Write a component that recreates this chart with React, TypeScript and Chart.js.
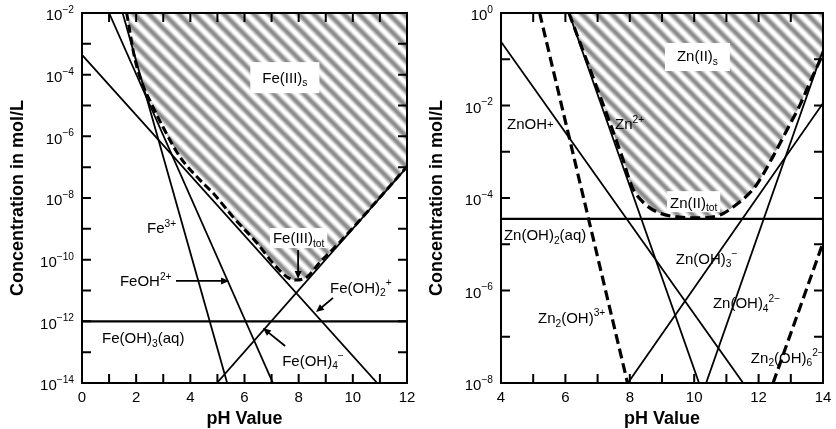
import React, { useEffect, useRef } from 'react';
import { Chart, registerables } from 'chart.js';

Chart.register(...registerables);

const FONT = '"Liberation Sans", Arial, Helvetica, sans-serif';

// ---------------- Fe(III) panel data (pH, log10 concentration) ----------------
const fePhTicks = [0, 2, 4, 6, 8, 10, 12];
const feLogTicks = [-2, -4, -6, -8, -10, -12, -14];
const fe3pH = [1.5, 5.36];
const fe3Log = [-2, -14];
const feOHpH = [1.0, 7.05];
const feOHLog = [-2, -14];
const feOH2pH = [0, 10.9];
const feOH2Log = [-3.36, -14];
const feOH3pH = [0, 12];
const feOH3Log = [-12, -12];
const feOH4pH = [4.98, 12];
const feOH4Log = [-14, -7.0];
const feTotPH = [1.65, 1.96, 2.25, 2.55, 2.95, 3.62, 4.36, 4.84, 5.58, 6.46, 7.05, 7.57, 7.87, 8.31, 8.79, 9.5, 12];
const feTotLog = [-2, -3.52, -4.34, -4.92, -5.63, -6.67, -7.42, -7.84, -8.62, -9.46, -10.11, -10.56, -10.66, -10.56, -10.08, -9.45, -6.98];

// ---------------- Zn(II) panel data ----------------
const znPhTicks = [4, 6, 8, 10, 12, 14];
const znLogTicks = [0, -2, -4, -6, -8];
const zn2pH = [6.11, 10.15];
const zn2Log = [0, -8];
const znOHpH = [4, 11.52];
const znOHLog = [-0.62, -8];
const znOH2pH = [4, 14];
const znOH2Log = [-4.45, -4.45];
const znOH3pH = [7.94, 14];
const znOH3Log = [-8, -1.95];
const znOH4pH = [10.37, 14];
const znOH4Log = [-8, -0.8];
const zn2OH3pH = [5.2, 7.93];
const zn2OH3Log = [0, -8];
const zn2OH6pH = [12.45, 14];
const zn2OH6Log = [-8, -4.97];
const znTotPH = [6.11, 7.76, 8.07, 8.41, 8.84, 9.47, 10.18, 10.8, 11.2, 11.64, 11.95, 12.45, 12.91, 13.29, 13.6, 14];
const znTotLog = [0, -3.11, -3.76, -4.09, -4.3, -4.41, -4.43, -4.37, -4.2, -3.95, -3.7, -3.1, -2.49, -1.98, -1.49, -0.88];

type Part = [string, number]; // mode: 0 normal, 1 sup, -1 sub, 2 small mid
interface Label { ph: number; lg: number; parts: Part[]; align?: 'left' | 'center'; box?: [number, number, number] }
interface Arrow { from: [number, number]; to: [number, number] }
interface Series { ph: number[]; lg: number[]; dash?: number[]; fill?: boolean; width?: number }
interface PanelCfg {
  xMin: number; xMax: number; yMinExp: number; yMaxExp: number;
  xTicks: number[]; yTicks: number[];
  padding: { left: number; right: number; top: number; bottom: number };
  series: Series[]; labels: Label[]; arrows: Arrow[];
}

const FE_PANEL: PanelCfg = {
  xMin: 0, xMax: 12, yMinExp: -14, yMaxExp: -2,
  xTicks: fePhTicks, yTicks: feLogTicks,
  padding: { left: 82, right: 11, top: 13, bottom: 46 },
  series: [
    { ph: feTotPH, lg: feTotLog, dash: [8, 4], fill: true, width: 3 },
    { ph: fe3pH, lg: fe3Log },
    { ph: feOHpH, lg: feOHLog },
    { ph: feOH2pH, lg: feOH2Log },
    { ph: feOH3pH, lg: feOH3Log, width: 2.2 },
    { ph: feOH4pH, lg: feOH4Log },
  ],
  labels: [
    { ph: 7.49, lg: -4.08, parts: [['Fe(III)', 0], ['s', -1]], align: 'center', box: [12, 15, 16] },
    { ph: 2.4, lg: -8.97, parts: [['Fe', 0], ['3+', 1]] },
    { ph: 1.4, lg: -10.69, parts: [['FeOH', 0], ['2+', 1]] },
    { ph: 7.05, lg: -9.3, parts: [['Fe(III)', 0], ['tot', -1]], box: [3, 10, 10] },
    { ph: 9.16, lg: -10.89, parts: [['Fe(OH)', 0], ['2', -1], ['+', 1]] },
    { ph: 0.74, lg: -12.54, parts: [['Fe(OH)', 0], ['3', -1], ['(aq)', 0]] },
    { ph: 7.39, lg: -13.26, parts: [['Fe(OH)', 0], ['4', -1], ['\u2212', 1]] },
  ],
  arrows: [
    { from: [3.47, -10.69], to: [5.43, -10.69] },
    { from: [7.98, -9.69], to: [7.98, -10.63] },
    { from: [9.27, -11.24], to: [8.64, -11.7] },
    { from: [7.5, -12.8], to: [6.68, -12.22] },
  ],
};

const ZN_PANEL: PanelCfg = {
  xMin: 4, xMax: 14, yMinExp: -8, yMaxExp: 0,
  xTicks: znPhTicks, yTicks: znLogTicks,
  padding: { left: 83, right: 13, top: 13, bottom: 46 },
  series: [
    { ph: znTotPH, lg: znTotLog, dash: [10, 5], fill: true, width: 3.2 },
    { ph: zn2OH3pH, lg: zn2OH3Log, dash: [10, 5], width: 3.2 },
    { ph: zn2OH6pH, lg: zn2OH6Log, dash: [10, 5], width: 3.2 },
    { ph: zn2pH, lg: zn2Log },
    { ph: znOHpH, lg: znOHLog },
    { ph: znOH2pH, lg: znOH2Log, width: 2.2 },
    { ph: znOH3pH, lg: znOH3Log },
    { ph: znOH4pH, lg: znOH4Log },
  ],
  labels: [
    { ph: 10.1, lg: -0.93, parts: [['Zn(II)', 0], ['s', -1]], align: 'center', box: [12, 13, 15] },
    { ph: 4.19, lg: -2.4, parts: [['ZnOH', 0], ['+', 2]] },
    { ph: 7.54, lg: -2.4, parts: [['Zn', 0], ['2+', 1]] },
    { ph: 9.25, lg: -4.09, parts: [['Zn(II)', 0], ['tot', -1]], box: [3, 11, 10] },
    { ph: 4.09, lg: -4.8, parts: [['Zn(OH)', 0], ['2', -1], ['(aq)', 0]] },
    { ph: 9.43, lg: -5.3, parts: [['Zn(OH)', 0], ['3', -1], ['\u2212', 1]] },
    { ph: 10.58, lg: -6.27, parts: [['Zn(OH)', 0], ['4', -1], ['2\u2212', 1]] },
    { ph: 5.15, lg: -6.59, parts: [['Zn', 0], ['2', -1], ['(OH)', 0], ['3+', 1]] },
    { ph: 11.76, lg: -7.44, parts: [['Zn', 0], ['2', -1], ['(OH)', 0], ['6', -1], ['2\u2212', 1]] },
  ],
  arrows: [],
};

function partSize(m: number, size: number) {
  return m === 0 ? size : m === 2 ? size * 0.75 : size * 0.68;
}

function measureRich(ctx: CanvasRenderingContext2D, parts: Part[], size: number) {
  let w = 0;
  for (const [t, m] of parts) {
    ctx.font = `${partSize(m, size)}px ${FONT}`;
    w += ctx.measureText(t).width;
  }
  return w;
}

function drawRich(ctx: CanvasRenderingContext2D, x: number, ymid: number, parts: Part[], size: number, align: string, supOff = -0.45) {
  const total = measureRich(ctx, parts, size);
  let cx = align === 'center' ? x - total / 2 : align === 'right' ? x - total : x;
  const base = ymid + 0.36 * size;
  ctx.textAlign = 'left';
  ctx.textBaseline = 'alphabetic';
  for (const [t, m] of parts) {
    const s = partSize(m, size);
    ctx.font = `${s}px ${FONT}`;
    const off = m === 1 ? supOff * size : m === -1 ? 0.25 * size : m === 2 ? -0.12 * size : 0;
    ctx.fillText(t, cx, base + off);
    cx += ctx.measureText(t).width;
  }
}

function makeHatch(): CanvasPattern | string {
  const P = 15;
  const c = document.createElement('canvas');
  c.width = P;
  c.height = P;
  const g = c.getContext('2d');
  if (!g) return '#999';
  g.fillStyle = '#ffffff';
  g.fillRect(0, 0, P, P);
  const draw = (w: number, col: string) => {
    g.strokeStyle = col;
    g.lineWidth = w;
    for (let k = -2; k <= 2; k++) {
      g.beginPath();
      g.moveTo(-3, -3 + k * P);
      g.lineTo(P + 3, P + 3 + k * P);
      g.stroke();
    }
  };
  draw(7.5, '#dcdcdc');
  draw(5, '#b4b4b4');
  draw(3, '#8e8e8e');
  return g.createPattern(c, 'repeat') || '#999';
}

function decorPlugin(cfg: PanelCfg) {
  return {
    id: 'decor',
    afterDatasetsDraw(chart: any) {
      const { ctx, chartArea: a, scales } = chart;
      const X = (v: number) => scales.x.getPixelForValue(v);
      const Y = (lg: number) => scales.y.getPixelForValue(Math.pow(10, lg));
      ctx.save();
      ctx.fillStyle = '#000';
      ctx.strokeStyle = '#000';

      // arrows
      for (const ar of cfg.arrows) {
        const x1 = X(ar.from[0]), y1 = Y(ar.from[1]);
        const x2 = X(ar.to[0]), y2 = Y(ar.to[1]);
        const ang = Math.atan2(y2 - y1, x2 - x1);
        const hl = 8, hw = 3.5;
        ctx.lineWidth = 1.8;
        ctx.beginPath();
        ctx.moveTo(x1, y1);
        ctx.lineTo(x2 - Math.cos(ang) * hl * 0.8, y2 - Math.sin(ang) * hl * 0.8);
        ctx.stroke();
        ctx.beginPath();
        ctx.moveTo(x2, y2);
        ctx.lineTo(x2 - Math.cos(ang) * hl - Math.sin(ang) * hw, y2 - Math.sin(ang) * hl + Math.cos(ang) * hw);
        ctx.lineTo(x2 - Math.cos(ang) * hl + Math.sin(ang) * hw, y2 - Math.sin(ang) * hl - Math.cos(ang) * hw);
        ctx.closePath();
        ctx.fill();
      }

      // labels
      const LS = 15;
      for (const lb of cfg.labels) {
        const x = X(lb.ph), y = Y(lb.lg);
        const align = lb.align || 'left';
        if (lb.box) {
          const w = measureRich(ctx, lb.parts, LS);
          const left = align === 'center' ? x - w / 2 : x;
          ctx.fillStyle = '#fff';
          ctx.fillRect(left - lb.box[0], y - lb.box[1], w + 2 * lb.box[0], lb.box[1] + lb.box[2]);
          ctx.fillStyle = '#000';
        }
        drawRich(ctx, x, y, lb.parts, LS, align);
      }

      // frame
      ctx.lineWidth = 2;
      ctx.strokeRect(a.left, a.top, a.right - a.left, a.bottom - a.top);

      // ticks
      const TL = 9;
      ctx.lineWidth = 2;
      ctx.beginPath();
      for (let v = cfg.xMin + 1; v < cfg.xMax; v++) {
        const px = X(v);
        ctx.moveTo(px, a.bottom);
        ctx.lineTo(px, a.bottom - TL);
        ctx.moveTo(px, a.top);
        ctx.lineTo(px, a.top + TL);
      }
      for (let e = cfg.yMinExp + 1; e < cfg.yMaxExp; e++) {
        const py = Y(e);
        ctx.moveTo(a.left, py);
        ctx.lineTo(a.left + TL, py);
        ctx.moveTo(a.right, py);
        ctx.lineTo(a.right - TL, py);
      }
      ctx.stroke();

      // tick labels
      const TS = 15;
      ctx.fillStyle = '#000';
      for (const v of cfg.xTicks) {
        drawRich(ctx, X(v), a.bottom + 14, [[String(v), 0]], TS, 'center');
      }
      for (const e of cfg.yTicks) {
        const sup = e < 0 ? '\u2212' + Math.abs(e) : String(e);
        drawRich(ctx, a.left - 8, Y(e) + 2, [['10', 0], [sup, 1]], TS, 'right', -0.5);
      }

      // axis titles
      ctx.font = `bold 18px ${FONT}`;
      ctx.textAlign = 'center';
      ctx.textBaseline = 'middle';
      ctx.fillText('pH Value', (a.left + a.right) / 2, a.bottom + 36);
      ctx.save();
      ctx.translate(a.left - 64, (a.top + a.bottom) / 2);
      ctx.rotate(-Math.PI / 2);
      ctx.fillText('Concentration in mol/L', 0, 0);
      ctx.restore();

      ctx.restore();
    },
  };
}

function Panel({ cfg, left }: { cfg: PanelCfg; left: number }) {
  const ref = useRef<HTMLCanvasElement | null>(null);
  useEffect(() => {
    if (!ref.current) return;
    const hatch = makeHatch();
    const datasets = cfg.series.map((s) => ({
      data: s.ph.map((x, i) => ({ x, y: Math.pow(10, s.lg[i]) })),
      borderColor: '#000',
      borderWidth: s.width || 1.8,
      borderDash: s.dash || [],
      pointRadius: 0,
      fill: s.fill ? 'end' : false,
      backgroundColor: s.fill ? hatch : 'transparent',
      cubicInterpolationMode: s.fill ? 'monotone' : 'default',
      tension: 0,
      order: s.fill ? 10 : 0,
    }));
    const chart = new Chart(ref.current, {
      type: 'line',
      data: { datasets } as any,
      options: {
        responsive: false,
        maintainAspectRatio: false,
        animation: false,
        events: [],
        layout: { padding: cfg.padding },
        plugins: { legend: { display: false }, tooltip: { enabled: false } },
        scales: {
          x: { type: 'linear', min: cfg.xMin, max: cfg.xMax, display: false },
          y: { type: 'logarithmic', min: Math.pow(10, cfg.yMinExp), max: Math.pow(10, cfg.yMaxExp), display: false },
        },
      } as any,
      plugins: [decorPlugin(cfg)],
    });
    return () => chart.destroy();
  }, [cfg]);
  return (
    <canvas
      ref={ref}
      width={418}
      height={429}
      style={{ position: 'absolute', left, top: 0, width: 418, height: 429, display: 'block' }}
    />
  );
}

export default function App() {
  return (
    <div style={{ position: 'absolute', left: 0, top: 0, width: 836, height: 429, background: '#fff', overflow: 'hidden' }}>
      <Panel cfg={FE_PANEL} left={0} />
      <Panel cfg={ZN_PANEL} left={418} />
    </div>
  );
}
